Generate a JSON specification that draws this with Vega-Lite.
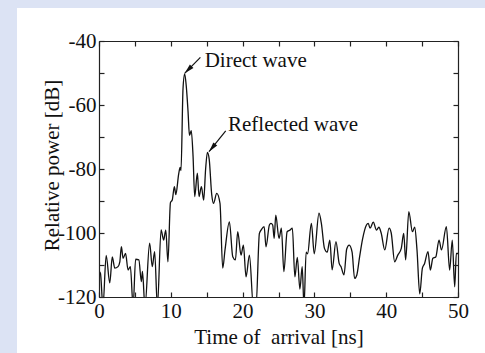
{
  "$schema": "https://vega.github.io/schema/vega-lite/v6.json",
  "width": 359,
  "height": 256,
  "autosize": {"type": "none"},
  "padding": {"left": 99, "top": 41, "right": 27, "bottom": 56},
  "background": "#dce3f4",
  "config": {
    "view": {"stroke": null},
    "font": "Liberation Serif",
    "axis": {
      "grid": false,
      "domainColor": "#222222",
      "domainWidth": 1.2,
      "tickColor": "#222222",
      "tickWidth": 1.2,
      "tickSize": -5,
      "labelPadding": 8,
      "labelFont": "Liberation Serif",
      "labelFontSize": 21,
      "labelColor": "#111111",
      "labelOverlap": false,
      "labelBound": false,
      "labelFlush": false,
      "titleFont": "Liberation Serif",
      "titleFontSize": 21,
      "titleFontWeight": "normal",
      "titleColor": "#111111"
    }
  },
  "datasets": {
    "curve": [
      {"t": 0.0, "db": -112.0}, {"t": 0.2, "db": -112.6}, {"t": 0.55, "db": -123}, {"t": 1.0, "db": -107},
      {"t": 1.5, "db": -115.6}, {"t": 1.85, "db": -107.5}, {"t": 2.2, "db": -111}, {"t": 2.65, "db": -110.5},
      {"t": 2.9, "db": -109}, {"t": 3.12, "db": -104.3}, {"t": 3.35, "db": -107.9}, {"t": 3.7, "db": -106.4},
      {"t": 4.05, "db": -111.6}, {"t": 4.37, "db": -110.5}, {"t": 4.75, "db": -123}, {"t": 5.1, "db": -108.2},
      {"t": 5.55, "db": -108.4}, {"t": 5.9, "db": -115.2}, {"t": 6.05, "db": -112}, {"t": 6.4, "db": -123},
      {"t": 7.05, "db": -103.2}, {"t": 7.42, "db": -110.5}, {"t": 7.75, "db": -105.8}, {"t": 8.13, "db": -123},
      {"t": 8.65, "db": -99}, {"t": 9.0, "db": -102.2}, {"t": 9.3, "db": -99.1}, {"t": 9.6, "db": -109},
      {"t": 9.95, "db": -90.5}, {"t": 10.2, "db": -89.7}, {"t": 10.5, "db": -85.5}, {"t": 10.7, "db": -88},
      {"t": 11.1, "db": -81.5}, {"t": 11.3, "db": -79.5}, {"t": 11.42, "db": -80.5}, {"t": 11.7, "db": -55},
      {"t": 11.93, "db": -50.3}, {"t": 12.15, "db": -54}, {"t": 12.4, "db": -62}, {"t": 12.6, "db": -69.5},
      {"t": 12.85, "db": -68}, {"t": 13.1, "db": -76}, {"t": 13.33, "db": -88.6}, {"t": 13.7, "db": -81.3},
      {"t": 13.93, "db": -88.6}, {"t": 14.26, "db": -85.5}, {"t": 14.58, "db": -89.7}, {"t": 14.85, "db": -80},
      {"t": 15.1, "db": -74.8}, {"t": 15.35, "db": -77}, {"t": 15.7, "db": -88}, {"t": 15.95, "db": -90.7},
      {"t": 16.4, "db": -87.6}, {"t": 16.85, "db": -90.7}, {"t": 17.23, "db": -111}, {"t": 17.55, "db": -105.3},
      {"t": 18.16, "db": -96.5}, {"t": 18.63, "db": -107.4}, {"t": 19.0, "db": -108.4}, {"t": 19.32, "db": -99.6},
      {"t": 19.78, "db": -106.9}, {"t": 20.11, "db": -103.8}, {"t": 20.48, "db": -113.7}, {"t": 20.95, "db": -106.9},
      {"t": 21.5, "db": -123}, {"t": 21.87, "db": -123}, {"t": 22.34, "db": -100.1}, {"t": 22.6, "db": -99},
      {"t": 23.0, "db": -98}, {"t": 23.26, "db": -104.3}, {"t": 23.73, "db": -97.5}, {"t": 23.95, "db": -97},
      {"t": 24.19, "db": -97.5}, {"t": 24.4, "db": -101.7}, {"t": 24.62, "db": -94.4}, {"t": 25.07, "db": -101.7},
      {"t": 25.4, "db": -98.5}, {"t": 25.75, "db": -112.1}, {"t": 26.2, "db": -99.6}, {"t": 26.6, "db": -99.1},
      {"t": 26.93, "db": -98.5}, {"t": 27.28, "db": -113.7}, {"t": 27.62, "db": -107.6}, {"t": 27.98, "db": -117.5},
      {"t": 28.3, "db": -110.5}, {"t": 28.55, "db": -123}, {"t": 28.85, "db": -106}, {"t": 29.05, "db": -106.5},
      {"t": 29.58, "db": -97}, {"t": 29.98, "db": -106.5}, {"t": 30.64, "db": -93.8}, {"t": 30.97, "db": -97},
      {"t": 31.4, "db": -104.8}, {"t": 31.78, "db": -106}, {"t": 32.15, "db": -102.2}, {"t": 32.47, "db": -111.5},
      {"t": 33.0, "db": -102.7}, {"t": 33.45, "db": -109.5}, {"t": 33.7, "db": -110.5}, {"t": 34.12, "db": -113.1},
      {"t": 34.5, "db": -105}, {"t": 34.85, "db": -103.8}, {"t": 35.25, "db": -106}, {"t": 35.6, "db": -114.2},
      {"t": 35.9, "db": -113.2}, {"t": 36.3, "db": -107.4}, {"t": 36.7, "db": -102}, {"t": 37.25, "db": -97.5},
      {"t": 37.5, "db": -97}, {"t": 37.75, "db": -98.5}, {"t": 38.2, "db": -96.6}, {"t": 38.65, "db": -99.1},
      {"t": 38.98, "db": -98.2}, {"t": 39.3, "db": -100}, {"t": 39.8, "db": -105.3}, {"t": 40.4, "db": -98.5},
      {"t": 40.7, "db": -100}, {"t": 41.18, "db": -109}, {"t": 41.6, "db": -107}, {"t": 42.1, "db": -104.8},
      {"t": 42.44, "db": -100.1}, {"t": 42.71, "db": -108.4}, {"t": 43.15, "db": -93.3}, {"t": 43.65, "db": -99.6},
      {"t": 43.97, "db": -98.2}, {"t": 44.29, "db": -105.3}, {"t": 44.67, "db": -119}, {"t": 45.04, "db": -111},
      {"t": 45.35, "db": -109.5}, {"t": 45.82, "db": -105.8}, {"t": 46.15, "db": -111.6}, {"t": 46.5, "db": -107.9},
      {"t": 46.9, "db": -107.5}, {"t": 47.36, "db": -102.2}, {"t": 47.7, "db": -105.3}, {"t": 48.38, "db": -98},
      {"t": 48.84, "db": -111.6}, {"t": 49.2, "db": -102.2}, {"t": 49.54, "db": -116.8}, {"t": 49.77, "db": -106.4},
      {"t": 50.0, "db": -106.4}
    ],
    "labels": [
      {"t": 14.72, "db": -48.1, "label": "Direct wave"},
      {"t": 17.97, "db": -68.1, "label": "Reflected wave"}
    ],
    "arrows": [
      {"t0": 14.12, "d0": -45.1, "t1": 11.93, "d1": -50.1, "ang": 224.5},
      {"t0": 17.65, "d0": -68.1, "t1": 15.32, "d1": -74.6, "ang": 219}
    ]
  },
  "layer": [
    {
      "data": {"values": [{}]},
      "mark": {"type": "rect", "fill": "white", "clip": false},
      "encoding": {
        "x": {"datum": -11.42, "type": "quantitative", "axis": null},
        "x2": {"datum": 60},
        "y": {"datum": -29.7, "type": "quantitative", "axis": null},
        "y2": {"datum": -150}
      }
    },
    {
      "data": {"name": "curve"},
      "mark": {"type": "line", "interpolate": "monotone", "color": "#111111", "strokeWidth": 1.3, "clip": true},
      "encoding": {
        "x": {
          "field": "t", "type": "quantitative",
          "scale": {"domain": [0, 50], "nice": false, "zero": false},
          "axis": {
            "orient": "bottom",
            "zindex": 1,
            "values": [0, 5, 10, 15, 20, 25, 30, 35, 40, 45, 50],
            "labelExpr": "datum.value % 10 === 0 ? '' + datum.value : ''",
            "title": "Time of\u00a0 arrival [ns]",
            "titleX": 179.5,
            "titleY": 46,
            "titleAlign": "center",
            "titleBaseline": "alphabetic"
          }
        },
        "y": {
          "field": "db", "type": "quantitative",
          "scale": {"domain": [-120, -40], "nice": false, "zero": false},
          "axis": {
            "orient": "left",
            "zindex": 1,
            "values": [-120, -110, -100, -90, -80, -70, -60, -50, -40],
            "labelExpr": "datum.value % 20 === 0 ? '' + datum.value : ''",
            "title": "Relative power [dB]",
            "titleX": -41,
            "titleY": 124,
            "titleAngle": 270,
            "titleAlign": "center",
            "titleBaseline": "alphabetic"
          }
        }
      }
    },
    {
      "data": {"name": "arrows"},
      "mark": {"type": "rule", "color": "#111111", "strokeWidth": 1.2},
      "encoding": {
        "x": {"field": "t0", "type": "quantitative", "axis": null},
        "y": {"field": "d0", "type": "quantitative", "axis": null},
        "x2": {"field": "t1"},
        "y2": {"field": "d1"}
      }
    },
    {
      "data": {"name": "arrows"},
      "mark": {"type": "point", "shape": "M0,0L-0.5,2L0.5,2Z", "filled": true, "color": "#111111", "size": 100, "opacity": 1},
      "encoding": {
        "x": {"field": "t1", "type": "quantitative", "axis": null},
        "y": {"field": "d1", "type": "quantitative", "axis": null},
        "angle": {"field": "ang", "type": "quantitative", "scale": null}
      }
    },
    {
      "data": {"name": "labels"},
      "mark": {"type": "text", "align": "left", "baseline": "alphabetic", "font": "Liberation Serif", "fontSize": 21, "color": "#111111"},
      "encoding": {
        "x": {
          "field": "t", "type": "quantitative",
          "axis": {"orient": "top", "zindex": 1, "values": [0, 5, 10, 15, 20, 25, 30, 35, 40, 45, 50], "labels": false, "title": null}
        },
        "y": {
          "field": "db", "type": "quantitative",
          "axis": {"orient": "right", "zindex": 1, "values": [-120, -110, -100, -90, -80, -70, -60, -50, -40], "labels": false, "title": null}
        },
        "text": {"field": "label"}
      }
    }
  ],
  "resolve": {"axis": {"x": "independent", "y": "independent"}}
}
